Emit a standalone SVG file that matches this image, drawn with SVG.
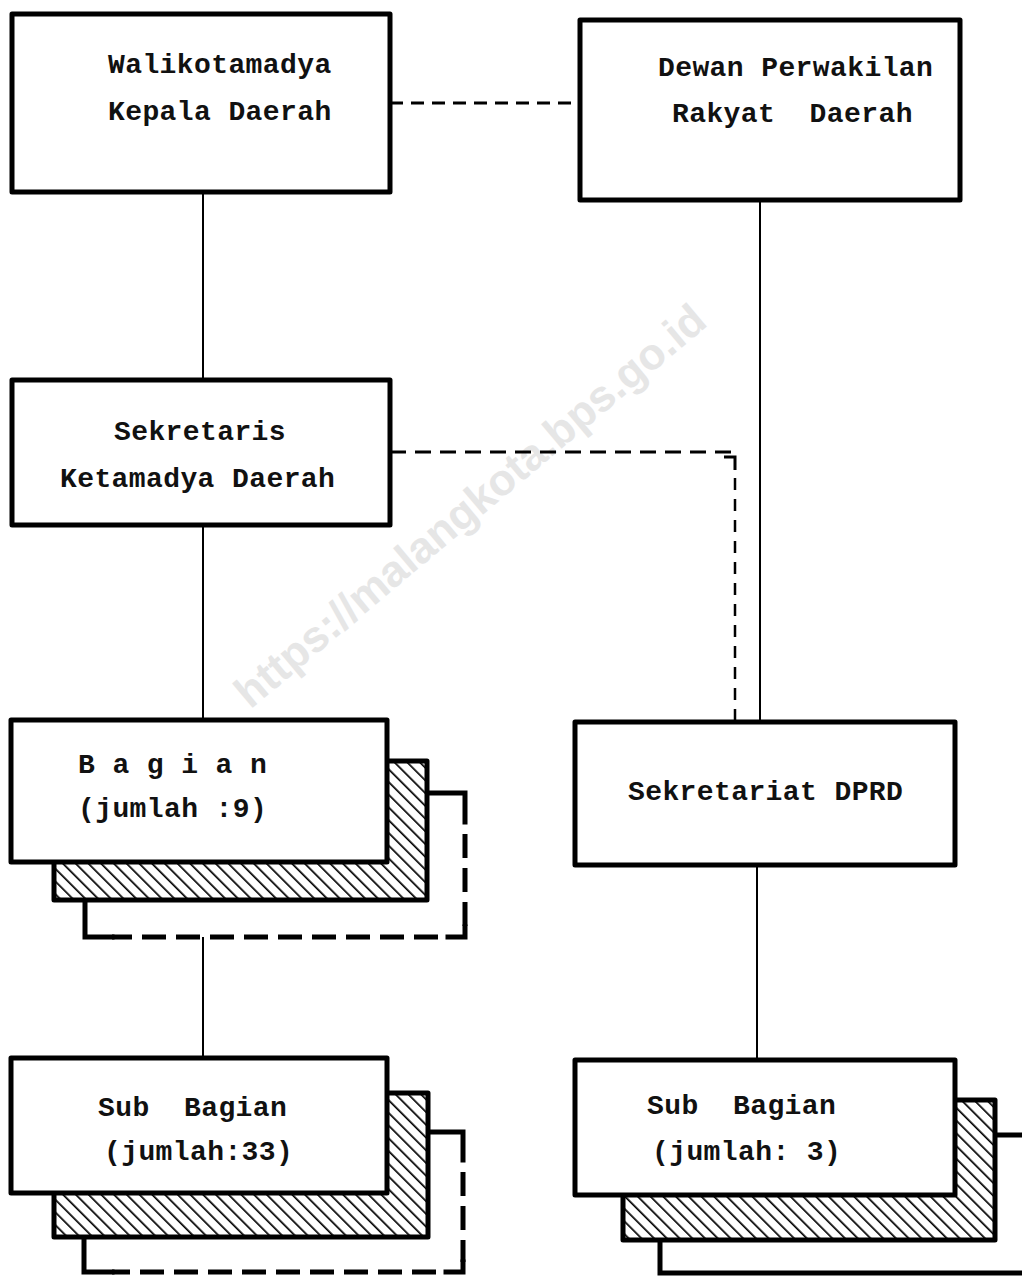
<svg xmlns="http://www.w3.org/2000/svg" width="1022" height="1281" viewBox="0 0 1022 1281">
<style>
.box{fill:#fff;stroke:#000;stroke-width:5;stroke-linejoin:round}
.back{fill:url(#hatch);stroke:#000;stroke-width:5;stroke-linejoin:round}
.t{font-family:"Liberation Mono","Courier New",monospace;font-size:28px;font-weight:bold;fill:#111;letter-spacing:0.4px;white-space:pre}
.ln{stroke:#000;stroke-width:2;fill:none}
.dash{stroke:#000;stroke-width:3;fill:none;stroke-dasharray:13 8}
.thick{stroke:#000;stroke-width:5;fill:none;stroke-linecap:square}
.thickd{stroke:#000;stroke-width:5;fill:none;stroke-dasharray:24 10}
.wm{font-family:"Liberation Sans",Arial,sans-serif;font-size:44px;font-weight:bold;fill:#e6e6e6}
</style>
<defs>
<pattern id="hatch" width="9" height="9" patternUnits="userSpaceOnUse" patternTransform="rotate(-45)">
<rect width="9" height="9" fill="#fff"/>
<line x1="0" y1="0" x2="0" y2="9" stroke="#000" stroke-width="3.4"/>
</pattern>
</defs>
<rect width="1022" height="1281" fill="#fff"/>
<text class="wm" x="472" y="520" text-anchor="middle" transform="rotate(-40 472 508)">https://malangkota.bps.go.id</text>
<g id="connectors">
<path class="ln" d="M203,192 V380"/>
<path class="ln" d="M203,525 V720"/>
<path class="ln" d="M203,937 V1058"/>
<path class="ln" d="M760,200 V722"/>
<path class="ln" d="M757,865 V1060"/>
<path class="dash" d="M390,103 H580"/>
<path class="dash" d="M390,452 H733" style="stroke-dasharray:16 9"/>
<path class="ln" d="M724,457 H735 V470" style="stroke-width:3"/>
<path class="dash" d="M735,478 V722" style="stroke-width:2.5;stroke-dasharray:12 9"/>
</g>
<g id="walikotamadya">
<rect class="box" x="12" y="14" width="378" height="178"/>
<text class="t" x="108" y="73">Walikotamadya</text>
<text class="t" x="108" y="120">Kepala Daerah</text>
</g>
<g id="dprd">
<rect class="box" x="580" y="20" width="380" height="180"/>
<text class="t" x="658" y="76">Dewan Perwakilan</text>
<text class="t" x="672" y="122">Rakyat  Daerah</text>
</g>
<g id="sekretaris">
<rect class="box" x="12" y="380" width="378" height="145"/>
<text class="t" x="114" y="440">Sekretaris</text>
<text class="t" x="60" y="487">Ketamadya Daerah</text>
</g>
<g id="bagian">
<path class="thick" d="M428,793 H465 V822"/>
<path class="thickd" d="M465,834 V927"/>
<path class="thick" d="M465,927 V937 H448"/>
<path class="thickd" d="M438,937 H112"/>
<path class="thick" d="M112,937 H85 V900"/>
<rect class="back" x="54" y="761" width="373" height="139"/>
<rect class="box" x="11" y="720" width="376" height="142"/>
<text class="t" x="78" y="773">B a g i a n</text>
<text class="t" x="78" y="817">(jumlah :9)</text>
</g>
<g id="sekretariat-dprd">
<rect class="box" x="575" y="722" width="380" height="143"/>
<text class="t" x="628" y="800">Sekretariat DPRD</text>
</g>
<g id="sub-bagian-left">
<path class="thick" d="M428,1132 H463 V1160"/>
<path class="thickd" d="M463,1172 V1262"/>
<path class="thick" d="M463,1262 V1272 H446"/>
<path class="thickd" d="M436,1272 H112"/>
<path class="thick" d="M112,1272 H84 V1237"/>
<rect class="back" x="54" y="1093" width="374" height="144"/>
<rect class="box" x="11" y="1058" width="376" height="135"/>
<text class="t" x="98" y="1116">Sub  Bagian</text>
<text class="t" x="104" y="1160">(jumlah:33)</text>
</g>
<g id="sub-bagian-right">
<path class="thick" d="M995,1135 H1024"/>
<path class="thick" d="M660,1240 V1273 H1024"/>
<rect class="back" x="623" y="1100" width="372" height="140"/>
<rect class="box" x="575" y="1060" width="380" height="135"/>
<text class="t" x="647" y="1114">Sub  Bagian</text>
<text class="t" x="652" y="1160">(jumlah: 3)</text>
</g>
</svg>
